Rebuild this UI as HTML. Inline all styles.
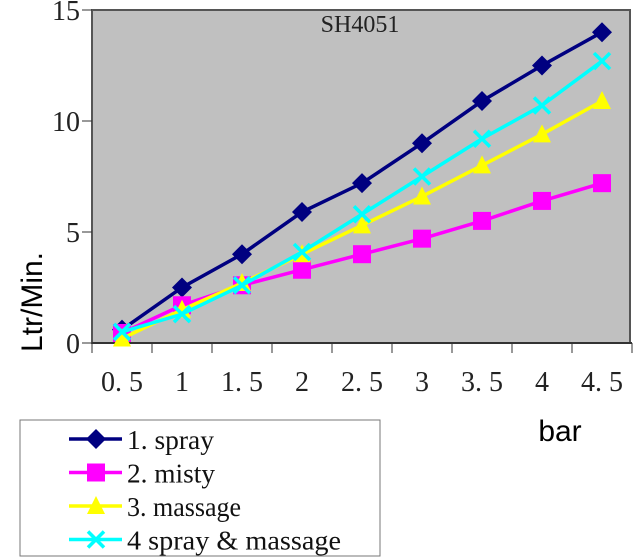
<!DOCTYPE html>
<html><head><meta charset="utf-8"><style>
body{margin:0;background:#fff;width:633px;height:560px;overflow:hidden}
svg{display:block}
</style></head><body>
<svg id="chart" width="633" height="560" xmlns="http://www.w3.org/2000/svg">
<rect x="92" y="10" width="538" height="333" fill="#c0c0c0" stroke="#555" stroke-width="2"/>
<text x="360" y="32" font-family="Liberation Serif, serif" font-size="24" text-anchor="middle" fill="#222">SH4051</text>
<g id="axes"></g>
<g id="series"></g>
<text transform="translate(42,302) rotate(-90)" font-family="Liberation Sans, sans-serif" font-size="30" text-anchor="middle" fill="#000">Ltr/Min.</text>
<text x="560" y="441" font-family="Liberation Sans, sans-serif" font-size="30" text-anchor="middle" fill="#000">bar</text>
<g>
<rect x="20" y="420" width="360" height="136" fill="#fff" stroke="#777" stroke-width="1"/>
<g id="legend-items"></g>
</g>
</svg>
<script>
const categories = ["0. 5","1","1. 5","2","2. 5","3","3. 5","4","4. 5"];
const yTicks = [0,5,10,15];
const spray = [0.6,2.5,4.0,5.9,7.2,9.0,10.9,12.5,14.0];
const misty = [0.45,1.7,2.6,3.3,4.0,4.7,5.5,6.4,7.2];
const massage = [0.2,1.5,2.7,4.0,5.3,6.6,8.0,9.4,10.9];
const sprayMassage = [0.5,1.3,2.6,4.1,5.8,7.5,9.2,10.7,12.7];
const seriesNames = ["1. spray","2. misty","3. massage","4 spray & massage"];

const NS="http://www.w3.org/2000/svg";
const X0=92,X1=632,Y0=343,Y1=10,YMAX=15;
const bw=(X1-X0)/categories.length;
const xs=i=>X0+bw*(i+0.5);
const ys=v=>Y0-(v/YMAX)*(Y0-Y1);
function mk(tag,attrs,parent){const e=document.createElementNS(NS,tag);for(const k in attrs)e.setAttribute(k,attrs[k]);parent.appendChild(e);return e;}
const axes=document.getElementById('axes');
mk('line',{x1:X0,y1:Y0,x2:X1,y2:Y0,stroke:'#333','stroke-width':2},axes);
yTicks.forEach(t=>{
  mk('line',{x1:X0-10,y1:ys(t),x2:X0,y2:ys(t),stroke:'#333'},axes);
  const tx=mk('text',{x:X0-12,y:ys(t)+10,'text-anchor':'end','font-family':'Liberation Serif, serif','font-size':28,fill:'#222'},axes);
  tx.textContent=t;
  
  
});
for(let i=0;i<=categories.length;i++){
  mk('line',{x1:X0+bw*i,y1:Y0,x2:X0+bw*i,y2:Y0+10,stroke:'#333'},axes);
}
categories.forEach((c,i)=>{
  const tx=mk('text',{x:xs(i),y:Y0+48,'text-anchor':'middle','font-family':'Liberation Serif, serif','font-size':28,fill:'#222'},axes);
  tx.textContent=c;
  
  
});
function marker(type,cx,cy,color,g){
  if(type==='diamond') mk('polygon',{points:`${cx},${cy-10} ${cx+10},${cy} ${cx},${cy+10} ${cx-10},${cy}`,fill:'#000080'},g);
  else if(type==='square') mk('rect',{x:cx-9,y:cy-9,width:18,height:18,fill:color},g);
  else if(type==='triangle') mk('polygon',{points:`${cx},${cy-10} ${cx+9},${cy+8} ${cx-9},${cy+8}`,fill:color},g);
  else {mk('line',{x1:cx-8,y1:cy-8,x2:cx+8,y2:cy+8,stroke:color,'stroke-width':3.5},g);mk('line',{x1:cx-8,y1:cy+8,x2:cx+8,y2:cy-8,stroke:color,'stroke-width':3.5},g);}
}
const defs=[[spray,'#000080','diamond'],[misty,'#ff00ff','square'],[massage,'#ffff00','triangle'],[sprayMassage,'#00ffff','x']];
const sg=document.getElementById('series');
defs.forEach((d,k)=>{
  const g=mk('g',{},sg);
  
  
  mk('polyline',{points:d[0].map((v,i)=>xs(i)+','+ys(v)).join(' '),fill:'none',stroke:d[1],'stroke-width':3.5},g);
  d[0].forEach((v,i)=>marker(d[2],xs(i),ys(v),d[1],g));
});
const lg=document.getElementById('legend-items');
const legW=[87,88,114,214];
defs.forEach((d,k)=>{
  const y=439+k*33.5;
  const g=mk('g',{},lg);
  
  
  mk('line',{x1:69,y1:y,x2:122,y2:y,stroke:d[1],'stroke-width':3.5},g);
  marker(d[2],96,y,d[1],g);
  const t=mk('text',{x:127,y:y+10,'font-family':'Liberation Serif, serif','font-size':27,fill:'#111',textLength:legW[k],lengthAdjust:'spacingAndGlyphs'},g);
  t.textContent=seriesNames[k];
});
</script>
</body></html>
